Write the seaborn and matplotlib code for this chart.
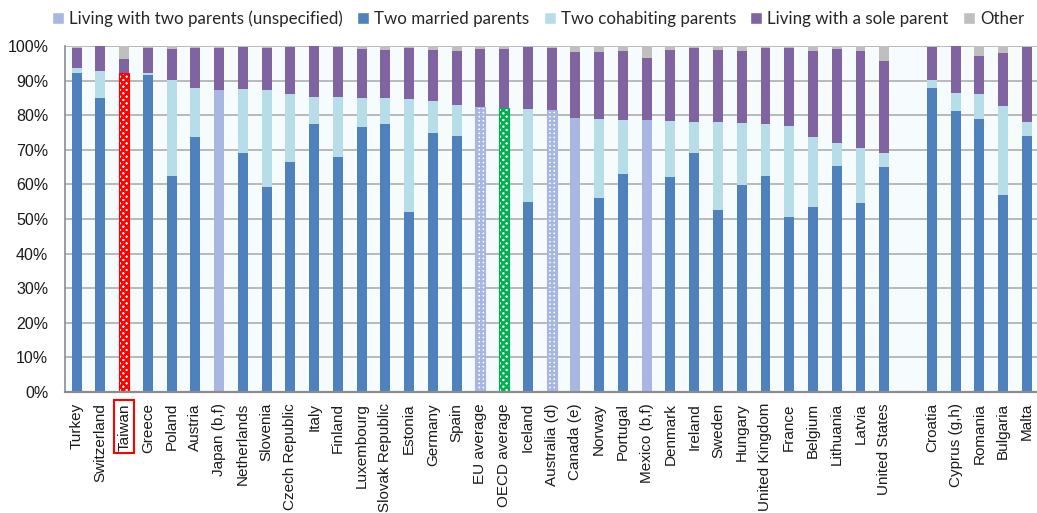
import numpy as np
import pandas as pd
import matplotlib
matplotlib.use("Agg")
import matplotlib.pyplot as plt
from matplotlib.patches import Patch
import seaborn as sns

countries = ["Turkey", "Switzerland", "Taiwan", "Greece", "Poland", "Austria", "Japan (b,f)",
             "Netherlands", "Slovenia", "Czech Republic", "Italy", "Finland", "Luxembourg",
             "Slovak Republic", "Estonia", "Germany", "Spain", "EU average", "OECD average",
             "Iceland", "Australia (d)", "Canada (e)", "Norway", "Portugal", "Mexico (b,f)",
             "Denmark", "Ireland", "Sweden", "Hungary", "United Kingdom", "France", "Belgium",
             "Lithuania", "Latvia", "United States", " ", "Croatia", "Cyprus (g,h)", "Romania",
             "Bulgaria", "Malta"]
unspecified = [0, 0, 92.1, 0, 0, 0, 87.4, 0, 0, 0, 0, 0, 0, 0, 0, 0, 0, 82.5, 82.2, 0, 81.4,
               79.1, 0, 0, 78.5, 0, 0, 0, 0, 0, 0, 0, 0, 0, 0, 0, 0, 0, 0, 0, 0]
married = [92.3, 85.1, 0, 91.6, 62.5, 73.8, 0, 69.1, 59.3, 66.5, 77.5, 67.9, 76.6, 77.4, 52.1,
           75.0, 73.9, 0, 0, 55.0, 0, 0, 56.2, 63.0, 0, 62.1, 69.0, 52.6, 59.9, 62.4, 50.7,
           53.5, 65.2, 54.6, 65.1, 0, 88.0, 81.2, 79.0, 56.9, 74.1]
cohabiting = [1.3, 7.8, 0, 0.7, 27.7, 14.1, 0, 18.5, 28.0, 19.5, 7.8, 17.3, 8.4, 7.7, 32.6,
              9.0, 9.0, 0, 0, 26.8, 0, 0, 22.7, 15.6, 0, 16.1, 9.1, 25.4, 17.8, 15.2, 26.3,
              20.1, 6.8, 16.0, 4.0, 0, 2.2, 5.2, 7.0, 25.8, 3.9]
sole = [5.7, 7.1, 4.0, 7.2, 8.9, 11.6, 12.1, 12.2, 12.2, 13.8, 14.7, 14.4, 14.1, 13.7, 14.6,
        14.8, 15.7, 16.6, 16.8, 18.0, 18.1, 19.3, 19.4, 20.0, 18.0, 20.6, 21.3, 20.7, 20.9,
        21.8, 22.5, 25.0, 27.1, 27.9, 26.7, 0, 9.5, 13.6, 11.2, 15.4, 21.7]
other = [0.7, 0.0, 3.9, 0.5, 0.9, 0.5, 0.5, 0.2, 0.5, 0.2, 0.0, 0.4, 0.9, 1.2, 0.7, 1.2, 1.4,
         0.9, 1.0, 0.2, 0.5, 1.6, 1.7, 1.4, 3.5, 1.2, 0.6, 1.3, 1.4, 0.6, 0.5, 1.4, 0.9, 1.5,
         4.2, 0, 0.3, 0.0, 2.8, 1.9, 0.3]

series_names = ["Living with two parents (unspecified)", "Two married parents",
                "Two cohabiting parents", "Living with a sole parent", "Other"]
c_unspec, c_married, c_cohab, c_sole, c_other = "#A7B7E1", "#4F81BD", "#B7DEE8", "#8064A2", "#BFBFBF"
hatched = {"Taiwan": ("#FF0000", "xxxxx"), "EU average": ("#A7B7E1", "++++"),
           "OECD average": ("#00B050", "xxxxx"), "Australia (d)": ("#A7B7E1", "++++")}

df = pd.DataFrame({"country": countries, "unspec": unspecified, "married": married,
                   "cohab": cohabiting, "sole": sole, "other": other})
df["c1"] = df["unspec"] + df["married"]
df["c2"] = df["c1"] + df["cohab"]
df["c3"] = df["c2"] + df["sole"]
df["c4"] = df["c3"] + df["other"]

sns.set_theme(style="white")
plt.rcParams['font.family'] = ['Liberation Sans', 'DejaVu Sans']
plt.rcParams['hatch.linewidth'] = 1.8

W, H = 1037, 513
fig = plt.figure(figsize=(W / 100, H / 100), dpi=100)
ax = fig.add_axes([65 / W, 1 - 392 / H, (W - 65) / W, 346 / H])
ax.set_facecolor("#F6FCFE")

layers = [("c4", [c_other] * len(df)), ("c3", [c_sole] * len(df)), ("c2", [c_cohab] * len(df)),
          ("c1", [c_unspec if u > 0 else c_married for u in df["unspec"]])]
for col, cols in layers:
    n0 = len(ax.patches)
    sns.barplot(data=df, x="country", y=col, hue="country", palette=cols, legend=False,
                width=0.42, saturation=1, linewidth=0, ax=ax, order=countries,
                hue_order=countries)
    if col == "c1":
        for p in ax.patches[n0:]:
            i = int(round(p.get_x() + p.get_width() / 2))
            name = countries[i]
            if name in hatched:
                colr, h = hatched[name]
                p.set_facecolor("white")
                p.set_edgecolor(colr)
                p.set_hatch(h)
                p.set_linewidth(0.8)

ax.set_xlim(-0.49, len(countries) - 1 + 0.43)
ax.set_ylim(0, 100)
ax.set_yticks(range(0, 101, 10))
ax.set_yticklabels([f"{v}%" for v in range(0, 101, 10)])
ax.yaxis.grid(True, color="#B3B3B3", linewidth=1.3)
ax.set_axisbelow(True)
for s in ["top", "right"]:
    ax.spines[s].set_visible(False)
ax.spines["left"].set_color("#8C8C8C")
ax.spines["left"].set_linewidth(1.2)
ax.spines["bottom"].set_color("#8C8C8C")
ax.spines["bottom"].set_linewidth(1.6)
ax.set_xlabel("")
ax.set_ylabel("")
ax.tick_params(axis="y", which="both", left=False, length=0,
               labelsize=11.5, labelcolor="#1A1A1A", pad=12)
ax.tick_params(axis="x", length=0, labelsize=11, labelcolor="#1A1A1A", pad=8)
for lab in ax.get_xticklabels():
    lab.set_rotation(90)
    if lab.get_text() == "Taiwan":
        lab.set_bbox(dict(facecolor="none", edgecolor="#FF0000", linewidth=1.5, pad=2))

handles = [Patch(facecolor=c) for c in [c_unspec, c_married, c_cohab, c_sole, c_other]]
fig.legend(handles, series_names, loc="upper center", bbox_to_anchor=(0.519, 1.01), ncol=5,
           frameon=False, handlelength=0.7, handleheight=0.7, handletextpad=0.3,
           columnspacing=0.85, prop={"family": "Lato", "size": 12.2})

fig.savefig("out.png", dpi=100, facecolor="white")
